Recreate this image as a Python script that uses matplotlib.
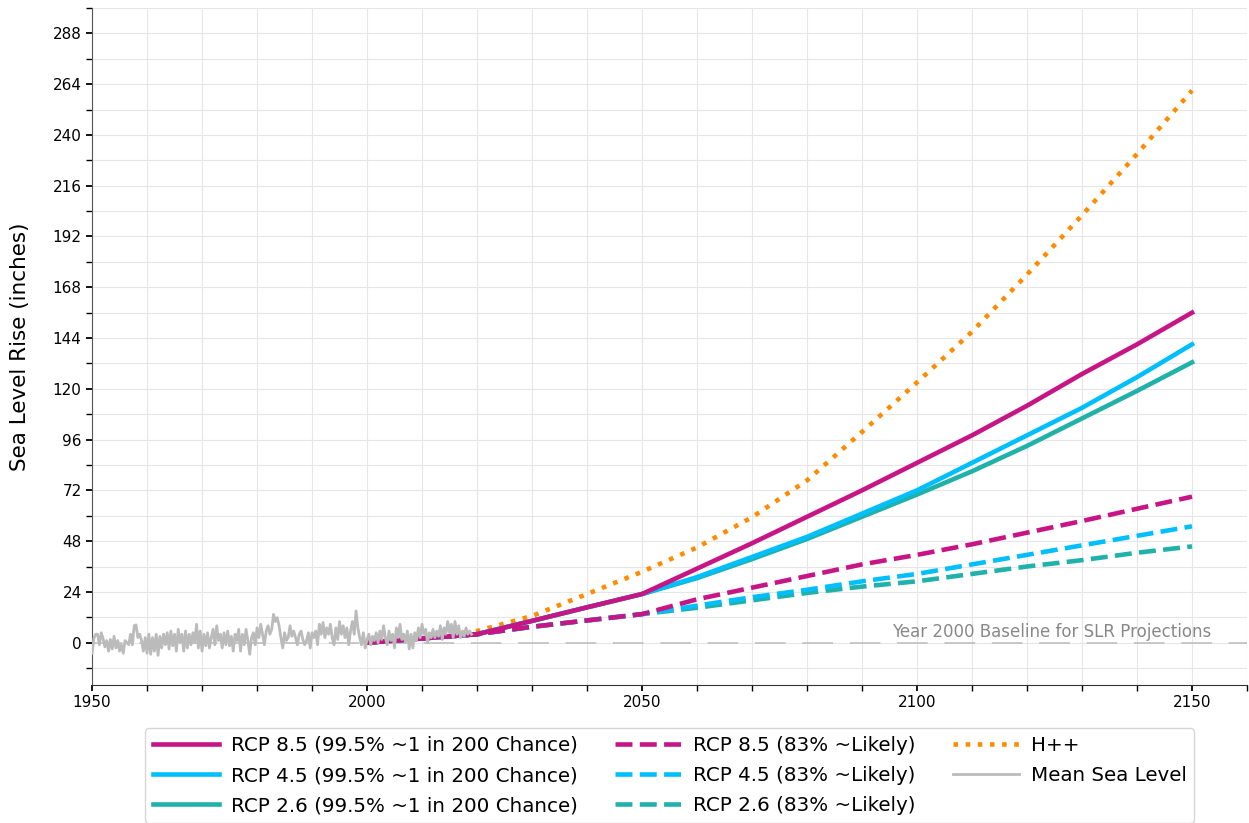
import numpy as np
import matplotlib
matplotlib.use("Agg")
import matplotlib.pyplot as plt
from matplotlib.ticker import MultipleLocator

# projection years
proj_years = [2000, 2020, 2030, 2040, 2050, 2060, 2070, 2080, 2090, 2100,
              2110, 2120, 2130, 2140, 2150]

rcp85_995 = [0, 4, 10.3, 16.7, 23, 35, 47, 59.5, 72, 85, 98, 112, 127, 141, 156]
rcp45_995 = [0, 4, 10.3, 16.7, 23, 31, 40.5, 50, 61, 72, 85, 98, 111, 125.5, 141]
rcp26_995 = [0, 4, 10.3, 16.7, 23, 30.5, 39.5, 49, 59.5, 70, 81, 93, 106, 119, 132.5]

rcp85_83 = [0, 4, 7.5, 10.5, 13.5, 20.5, 26, 31.5, 37, 41.5, 46.5, 52, 57.5, 63.3, 69]
rcp45_83 = [0, 4, 7.5, 10.5, 13.5, 17.5, 21.5, 25, 29, 32.5, 37, 41.5, 46, 50.5, 55]
rcp26_83 = [0, 4, 7.5, 10.5, 13.5, 16.5, 20, 23.5, 26.5, 29, 32.5, 36, 39, 42.5, 45.5]

hpp = [0, 5.5, 12.6, 23, 33.5, 45, 59.3, 76.7, 99.6, 123, 147, 174, 202, 231, 261]

# observed mean sea level, three readings per year, 1950-2019
msl_start = 1950
msl = [
    -5, 2, 4,   4, -1, 4.7,   2, -2, 1,   -4, 1.5, -3,   3, -2.5, 1,
    -4, -1, -5,   1, 0, -1,   4, -1, 8,   8.4, 2.4, 4,   1, -4, 2.4,
    -5, 4, -5.5,   2.4, -4, 4,   -6, 3, -2.5,   4, -1, 4.7,   -3, 5.5, -1.5,
    4, -4, 6.3,   0, 4, -4,   5.5, -2.5, 4,   -1, 4.7, 0,   8.7, -2.5, 5.5,
    -4, 4, -1.5,   4.7, -2.5, 2.4,   6.3, -1, 8,   1, 4, -2.5,   4.7, -1, 5.5,
    -1.5, 3, -4,   4, 1, 6.3,   -4, 4, -1,   6.3, 1, -5.5,   2.4, 4.7, -1,
    7, 2.4, 8.7,   4, -1, 5.5,   8, 4, 6.3,   13.4, 10, 11.8,   8, 2.4, -2.5,
    4.7, 1, 2.4,   8, 3, 5.5,   2.4, -1, 4,   5.5, 1.5, -1,   1, 4.7, -2.5,
    4.7, 2.4, 5.5,   -1, 8.7, 4,   9.5, 2.4, 7,   4, 8.7, 2.4,   -1, 7, 1.5,
    10, 4, 8,   2.4, 7, -1,   5.5, 10, 4,   15, 7, 2.4,   -1, 4.7, -2.5,
    1.5, 4, -1,   3, 1, 4.7,   0, 5.5, 1.5,   8, 2.4, -1,   5.5, 1, 4,
    -2.5, 7, 2.4,   8.7, 1.5, 4,   0, 5.5, -3,   4, -2.5, 4.7,   1, 7, 2.4,
    8.7, 4, 6.3,   0, 4.7, 2.4,   6.3, 2.4, 5.5,   3, 8, 1.5,   7, 4, 10,
    4.7, 8.7, 2.4,   10, 4, 8,   2.4, 5.5, 3,   7, 4, 5.5,   4,
]
msl_years = msl_start + np.arange(len(msl)) / 3.0

magenta = "#c71585"
cyan = "#00bfff"
teal = "#20b2aa"
orange = "#ff8c00"
gray = "#bbbbbb"

fig = plt.figure(figsize=(12.49, 8.23), dpi=100)
ax = fig.add_axes([0.0737, 0.1677, 0.9247, 0.8226])

lw = 3.3
ax.plot(proj_years, rcp85_995, color=magenta, lw=lw, zorder=6,
        label="RCP 8.5 (99.5% ~1 in 200 Chance)")
ax.plot(proj_years, rcp45_995, color=cyan, lw=lw, zorder=5,
        label="RCP 4.5 (99.5% ~1 in 200 Chance)")
ax.plot(proj_years, rcp26_995, color=teal, lw=lw, zorder=4,
        label="RCP 2.6 (99.5% ~1 in 200 Chance)")
ax.plot(proj_years, rcp85_83, color=magenta, lw=lw, ls="--", zorder=6,
        label="RCP 8.5 (83% ~Likely)")
ax.plot(proj_years, rcp45_83, color=cyan, lw=lw, ls="--", zorder=5,
        label="RCP 4.5 (83% ~Likely)")
ax.plot(proj_years, rcp26_83, color=teal, lw=lw, ls="--", zorder=4,
        label="RCP 2.6 (83% ~Likely)")
ax.plot(proj_years, hpp, color=orange, lw=lw, ls=":", zorder=3, label="H++")
ax.plot(msl_years, msl, color=gray, lw=2.0, zorder=7, label="Mean Sea Level")

# baseline
ax.axhline(0, color="#bbbbbb", lw=1.1, ls=(0, (20, 11)), zorder=2)
ax.text(2153.5, 0.8, "Year 2000 Baseline for SLR Projections", color="#888888",
        fontsize=12, ha="right", va="bottom")

ax.set_xlim(1950, 2160)
ax.set_ylim(-20, 300)
ax.xaxis.set_major_locator(MultipleLocator(50))
ax.xaxis.set_minor_locator(MultipleLocator(10))
ax.yaxis.set_major_locator(MultipleLocator(24))
ax.yaxis.set_minor_locator(MultipleLocator(12))
ax.grid(True, which="both", color="#e6e6e6", lw=0.8, zorder=0)
ax.set_axisbelow(True)
ax.tick_params(labelsize=11)
ax.tick_params(which="major", length=4, width=1.3)
ax.tick_params(which="minor", length=4, width=1.0)

for s in ["top", "right"]:
    ax.spines[s].set_visible(False)
ax.spines["left"].set_color("#555555")
ax.spines["bottom"].set_color("#333333")

ax.set_ylabel("Sea Level Rise (inches)", fontsize=15.5, labelpad=16)

fig.legend(*ax.get_legend_handles_labels(), loc="upper center",
           bbox_to_anchor=(0.5364, 0.1154), borderaxespad=0, ncol=3,
           fontsize=14.3, handlelength=3.3, handletextpad=0.6,
           columnspacing=1.9, labelspacing=0.56,
           frameon=True, edgecolor="#cccccc")

fig.savefig("out.png", dpi=100)
